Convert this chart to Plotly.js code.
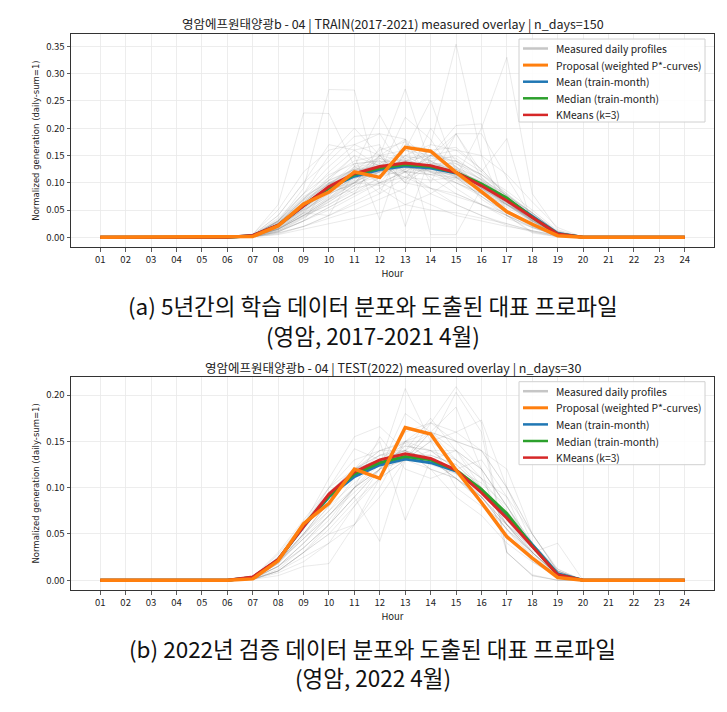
<!DOCTYPE html>
<html>
<head>
<meta charset="utf-8">
<script src="https://cdn.plot.ly/plotly-3.0.1.min.js"></script>
<style>html,body{margin:0;padding:0;background:#fff;}#chart{width:727px;height:712px;}</style>
</head>
<body>
<div id="chart"></div>
<script>
// ---------------- DATA ----------------
const hours = [1,2,3,4,5,6,7,8,9,10,11,12,13,14,15,16,17,18,19,20,21,22,23,24];
const hourLabels = ["01","02","03","04","05","06","07","08","09","10","11","12","13","14","15","16","17","18","19","20","21","22","23","24"];
const yTicksTrain = [0,0.05,0.10,0.15,0.20,0.25,0.30,0.35];
const yTicksTest = [0,0.05,0.10,0.15,0.20];

const proposal = [0,0,0,0,0,0,0.0015,0.021,0.061,0.083,0.120,0.110,0.165,0.158,0.119,0.084,0.047,0.024,0.003,0,0,0,0,0];
const meanCurve = [0,0,0,0,0,0,0.003,0.022,0.058,0.090,0.112,0.1245,0.131,0.127,0.118,0.096,0.070,0.038,0.007,0,0,0,0,0];
const medianCurve = [0,0,0,0,0,0,0.003,0.022,0.059,0.091,0.115,0.127,0.1335,0.130,0.119,0.098,0.072,0.037,0.006,0,0,0,0,0];
const kmeansCurve = [0,0,0,0,0,0,0.0035,0.0225,0.058,0.093,0.117,0.130,0.1365,0.1315,0.119,0.0945,0.067,0.037,0.006,0,0,0,0,0];

// measured daily profiles, TRAIN (2017-2021, April)
const trainProfiles = [
[0,0,0,0,0,0,.003,.024,.060,.092,.115,.126,.133,.127,.117,.094,.066,.035,.006,0,0,0,0,0],
[0,0,0,0,0,0,.002,.020,.055,.088,.112,.125,.134,.130,.120,.097,.068,.036,.007,0,0,0,0,0],
[0,0,0,0,0,0,.004,.028,.065,.098,.120,.128,.130,.122,.112,.090,.063,.033,.006,0,0,0,0,0],
[0,0,0,0,0,0,.002,.018,.050,.082,.108,.122,.133,.132,.124,.102,.074,.042,.009,0,0,0,0,0],
[0,0,0,0,0,0,.003,.022,.058,.090,.116,.130,.138,.130,.117,.092,.063,.033,.005,0,0,0,0,0],
[0,0,0,0,0,0,.002,.016,.045,.078,.104,.120,.132,.134,.127,.106,.078,.045,.010,0,0,0,0,0],
[0,0,0,0,0,0,.004,.030,.068,.100,.122,.130,.131,.121,.108,.086,.060,.032,.006,0,0,0,0,0],
[0,0,0,0,0,0,.003,.023,.057,.089,.111,.122,.128,.126,.120,.100,.072,.040,.008,0,0,0,0,0],
[0,0,0,0,0,0,.002,.019,.052,.086,.113,.128,.137,.132,.119,.095,.066,.034,.006,0,0,0,0,0],
[0,0,0,0,0,0,.003,.025,.062,.094,.114,.124,.129,.125,.116,.096,.069,.037,.007,0,0,0,0,0],
[0,0,0,0,0,0,.001,.014,.042,.074,.102,.121,.136,.137,.129,.107,.077,.043,.009,0,0,0,0,0],
[0,0,0,0,0,0,.005,.032,.072,.104,.124,.131,.130,.119,.105,.082,.058,.030,.005,0,0,0,0,0],
[0,0,0,0,0,0,.003,.021,.056,.091,.118,.133,.140,.131,.114,.089,.061,.031,.005,0,0,0,0,0],
[0,0,0,0,0,0,.002,.020,.053,.085,.108,.119,.127,.127,.121,.103,.077,.045,.010,0,0,0,0,0],
[0,0,0,0,0,0,.003,.026,.064,.097,.118,.127,.131,.124,.113,.091,.064,.034,.006,0,0,0,0,0],
[0,0,0,0,0,0,.002,.015,.040,.070,.115,.150,.160,.140,.115,.085,.060,.035,.006,0,0,0,0,0],
[0,0,0,0,0,0,.004,.035,.080,.115,.135,.140,.130,.115,.100,.080,.055,.028,.004,0,0,0,0,0],
[0,0,0,0,0,0,.001,.010,.035,.065,.095,.120,.145,.150,.140,.115,.080,.038,.006,0,0,0,0,0],
[0,0,0,0,0,0,.003,.025,.070,.110,.140,.150,.140,.120,.100,.075,.045,.020,.003,0,0,0,0,0],
[0,0,0,0,0,0,.002,.018,.048,.080,.100,.110,.125,.135,.135,.115,.085,.050,.012,0,0,0,0,0],
[0,0,0,0,0,0,.002,.020,.060,.100,.125,.100,.150,.140,.120,.090,.060,.030,.005,0,0,0,0,0],
[0,0,0,0,0,0,.003,.022,.050,.075,.130,.145,.120,.115,.125,.100,.068,.038,.007,0,0,0,0,0],
[0,0,0,0,0,0,.002,.015,.045,.090,.120,.160,.175,.130,.100,.080,.050,.025,.004,0,0,0,0,0],
[0,0,0,0,0,0,.003,.030,.075,.100,.110,.115,.120,.125,.120,.100,.068,.035,.006,0,0,0,0,0],
[0,0,0,0,0,0,.001,.012,.038,.060,.085,.110,.140,.160,.165,.125,.075,.035,.006,0,0,0,0,0],
[0,0,0,0,0,0,.004,.028,.060,.085,.105,.150,.180,.140,.110,.075,.040,.018,.003,0,0,0,0,0],
[0,0,0,0,0,0,.002,.020,.055,.095,.135,.140,.100,.130,.125,.095,.065,.035,.006,0,0,0,0,0],
[0,0,0,0,0,0,.003,.024,.062,.105,.150,.130,.120,.115,.110,.090,.060,.028,.005,0,0,0,0,0],
[0,0,0,0,0,0,.001,.010,.030,.055,.080,.110,.150,.170,.160,.125,.075,.032,.005,0,0,0,0,0],
[0,0,0,0,0,0,.002,.018,.052,.092,.120,.135,.160,.150,.120,.080,.045,.022,.004,0,0,0,0,0],
[0,0,0,0,0,0,.003,.020,.050,.080,.100,.125,.150,.125,.140,.105,.070,.035,.006,0,0,0,0,0],
[0,0,0,0,0,0,.002,.016,.044,.072,.100,.145,.130,.160,.135,.105,.065,.030,.005,0,0,0,0,0],
[0,0,0,0,0,0,.004,.030,.070,.105,.125,.125,.110,.105,.110,.095,.075,.045,.010,0,0,0,0,0],
[0,0,0,0,0,0,.002,.022,.058,.088,.100,.095,.125,.145,.140,.115,.075,.038,.007,0,0,0,0,0],
[0,0,0,0,0,0,.003,.026,.065,.098,.125,.135,.105,.135,.125,.095,.060,.030,.005,0,0,0,0,0],
[0,0,0,0,0,0,.001,.012,.036,.068,.100,.130,.140,.150,.145,.110,.065,.030,.005,0,0,0,0,0],
[0,0,0,0,0,0,.003,.028,.068,.098,.110,.120,.135,.128,.118,.092,.062,.032,.006,0,0,0,0,0],
[0,0,0,0,0,0,.002,.017,.047,.085,.128,.138,.142,.128,.110,.087,.066,.040,.010,0,0,0,0,0],
[0,0,0,0,0,0,.002,.020,.055,.085,.095,.165,.145,.120,.115,.095,.065,.032,.006,0,0,0,0,0],
[0,0,0,0,0,0,.003,.030,.090,.271,.270,.090,.060,.050,.045,.035,.025,.012,.003,0,0,0,0,0],
[0,0,0,0,0,0,.005,.060,.228,.227,.130,.100,.080,.060,.040,.030,.020,.012,.003,0,0,0,0,0],
[0,0,0,0,0,0,.001,.008,.020,.035,.050,.070,.090,.170,.354,.150,.040,.008,.001,0,0,0,0,0],
[0,0,0,0,0,0,.001,.005,.015,.025,.035,.045,.060,.080,.110,.200,.330,.080,.014,0,0,0,0,0],
[0,0,0,0,0,0,.002,.015,.040,.070,.100,.150,.272,.130,.090,.060,.040,.025,.005,0,0,0,0,0],
[0,0,0,0,0,0,.002,.014,.040,.060,.090,.130,.160,.251,.120,.070,.040,.020,.003,0,0,0,0,0],
[0,0,0,0,0,0,.003,.025,.060,.090,.130,.224,.140,.110,.080,.060,.045,.025,.005,0,0,0,0,0],
[0,0,0,0,0,0,.001,.010,.030,.050,.075,.100,.120,.150,.205,.208,.040,.010,.001,0,0,0,0,0],
[0,0,0,0,0,0,.003,.030,.080,.150,.200,.150,.100,.090,.080,.060,.035,.018,.004,0,0,0,0,0],
[0,0,0,0,0,0,.003,.030,.080,.130,.170,.190,.180,.005,.005,.090,.070,.040,.007,0,0,0,0,0],
[0,0,0,0,0,0,.003,.025,.070,.120,.160,.170,.020,.150,.130,.080,.045,.022,.005,0,0,0,0,0],
[0,0,0,0,0,0,.002,.020,.060,.110,.150,.032,.170,.160,.130,.090,.050,.022,.004,0,0,0,0,0],
[0,0,0,0,0,0,.001,.010,.030,.055,.080,.100,.120,.140,.150,.120,.181,.020,.003,0,0,0,0,0],
[0,0,0,0,0,0,.001,.008,.020,.040,.060,.080,.110,.150,.190,.190,.110,.035,.006,0,0,0,0,0],
[0,0,0,0,0,0,.004,.040,.100,.140,.185,.190,.120,.080,.060,.040,.025,.012,.004,0,0,0,0,0],
[0,0,0,0,0,0,.006,.050,.120,.160,.170,.150,.120,.090,.060,.040,.022,.010,.002,0,0,0,0,0],
[0,0,0,0,0,0,.001,.006,.020,.040,.065,.090,.120,.150,.160,.150,.115,.065,.018,0,0,0,0,0],
[0,0,0,0,0,0,.002,.015,.040,.065,.095,.120,.220,.180,.110,.075,.045,.025,.008,0,0,0,0,0],
[0,0,0,0,0,0,.002,.015,.045,.040,.120,.080,.180,.100,.190,.110,.070,.040,.008,0,0,0,0,0],
[0,0,0,0,0,0,.005,.040,.100,.170,.160,.130,.110,.090,.075,.060,.040,.018,.002,0,0,0,0,0],
[0,0,0,0,0,0,.002,.012,.030,.100,.080,.150,.100,.200,.140,.080,.060,.035,.011,0,0,0,0,0],
[0,0,0,0,0,0,.002,.015,.040,.070,.090,.100,.110,.130,.190,.120,.080,.045,.008,0,0,0,0,0]
];

// measured daily profiles, TEST (2022, April)
const testProfiles = [
[0,0,0,0,0,0,.003,.025,.060,.095,.120,.135,.140,.130,.115,.090,.055,.025,.004,0,0,0,0,0],
[0,0,0,0,0,0,.002,.020,.050,.085,.115,.135,.145,.140,.120,.090,.055,.020,.003,0,0,0,0,0],
[0,0,0,0,0,0,.001,.015,.040,.070,.100,.125,.207,.150,.100,.080,.060,.040,.012,0,0,0,0,0],
[0,0,0,0,0,0,.001,.010,.030,.050,.080,.110,.130,.169,.209,.170,.030,.005,0,0,0,0,0,0],
[0,0,0,0,0,0,.002,.015,.035,.060,.090,.120,.130,.150,.203,.160,.030,.005,0,0,0,0,0,0],
[0,0,0,0,0,0,.002,.020,.045,.070,.100,.120,.140,.160,.187,.120,.030,.006,0,0,0,0,0,0],
[0,0,0,0,0,0,.003,.020,.060,.110,.155,.166,.140,.120,.090,.070,.040,.020,.005,0,0,0,0,0],
[0,0,0,0,0,0,.002,.020,.055,.100,.142,.130,.140,.120,.110,.090,.055,.030,.006,0,0,0,0,0],
[0,0,0,0,0,0,.001,.010,.030,.060,.090,.042,.130,.160,.150,.140,.120,.050,.010,0,0,0,0,0],
[0,0,0,0,0,0,.002,.018,.050,.080,.120,.150,.065,.130,.140,.120,.080,.040,.008,0,0,0,0,0],
[0,0,0,0,0,0,.001,.005,.015,.018,.060,.110,.150,.170,.160,.140,.100,.050,.012,0,0,0,0,0],
[0,0,0,0,0,0,.001,.010,.030,.055,.085,.110,.130,.160,.130,.110,.090,.030,.040,0,0,0,0,0],
[0,0,0,0,0,0,.003,.022,.058,.090,.112,.128,.135,.135,.125,.100,.060,.028,.004,0,0,0,0,0],
[0,0,0,0,0,0,.002,.020,.050,.075,.100,.120,.150,.150,.130,.100,.065,.030,.005,0,0,0,0,0],
[0,0,0,0,0,0,.002,.018,.048,.080,.105,.130,.150,.140,.120,.100,.070,.030,.006,0,0,0,0,0],
[0,0,0,0,0,0,.001,.012,.035,.060,.090,.120,.180,.160,.140,.110,.060,.025,.005,0,0,0,0,0],
[0,0,0,0,0,0,.002,.015,.040,.065,.100,.130,.140,.175,.140,.100,.060,.030,.005,0,0,0,0,0],
[0,0,0,0,0,0,.003,.030,.065,.100,.120,.130,.130,.120,.110,.090,.060,.035,.007,0,0,0,0,0],
[0,0,0,0,0,0,.002,.025,.060,.100,.130,.140,.140,.130,.110,.085,.050,.022,.004,0,0,0,0,0],
[0,0,0,0,0,0,.001,.010,.030,.050,.060,.090,.130,.150,.160,.173,.100,.040,.006,0,0,0,0,0],
[0,0,0,0,0,0,.002,.020,.050,.085,.118,.140,.148,.130,.110,.090,.060,.035,.010,0,0,0,0,0],
[0,0,0,0,0,0,.001,.015,.040,.070,.100,.120,.145,.140,.130,.110,.075,.040,.010,0,0,0,0,0],
[0,0,0,0,0,0,.002,.020,.045,.075,.110,.130,.140,.130,.120,.105,.080,.035,.008,0,0,0,0,0],
[0,0,0,0,0,0,.003,.028,.062,.095,.120,.130,.135,.125,.115,.090,.060,.030,.006,0,0,0,0,0],
[0,0,0,0,0,0,.001,.008,.020,.040,.080,.120,.160,.170,.150,.120,.080,.040,.010,0,0,0,0,0],
[0,0,0,0,0,0,.001,.010,.025,.040,.060,.100,.150,.160,.150,.140,.100,.050,.010,0,0,0,0,0],
[0,0,0,0,0,0,.002,.018,.045,.070,.095,.120,.130,.140,.140,.120,.080,.035,.006,0,0,0,0,0],
[0,0,0,0,0,0,.003,.025,.055,.090,.120,.140,.150,.130,.110,.085,.055,.030,.007,0,0,0,0,0],
[0,0,0,0,0,0,.002,.015,.035,.060,.100,.155,.120,.110,.120,.130,.090,.050,.010,0,0,0,0,0],
[0,0,0,0,0,0,.002,.020,.050,.085,.120,.135,.135,.135,.125,.100,.060,.030,.005,0,0,0,0,0]
];

const titleTrain = "영암에프원태양광b - 04 | TRAIN(2017-2021) measured overlay | n_days=150";
const titleTest = "영암에프원태양광b - 04 | TEST(2022) measured overlay | n_days=30";
const captionA = ["(a) 5년간의 학습 데이터 분포와 도출된 대표 프로파일", "(영암, 2017-2021 4월)"];
const captionB = ["(b) 2022년 검증 데이터 분포와 도출된 대표 프로파일", "(영암, 2022 4월)"];
const legendNames = ["Measured daily profiles","Proposal (weighted P*-curves)","Mean (train-month)","Median (train-month)","KMeans (k=3)"];

// ---------------- STYLE ----------------
const W = 727, H = 712;
const KFONT = "'Noto Sans CJK KR', 'Noto Sans', sans-serif";
const GRAY = "rgba(128,128,128,0.17)";
const COLORS = {gray:"#c6c6c6", orange:"#ff7f0e", blue:"#1f77b4", green:"#2ca02c", red:"#d62728"};
const plotLeft = 71, plotRight = 714;
const panels = [
  {top:34, bottom:247, xa:"x", ya:"y", xn:"xaxis", yn:"yaxis", range:[-0.0177,0.3728], ticks:yTicksTrain, profiles:trainProfiles, title:titleTrain, titleY:24, caption:captionA, capY:[305,335]},
  {top:376.7, bottom:590, xa:"x2", ya:"y2", xn:"xaxis2", yn:"yaxis2", range:[-0.0105,0.2198], ticks:yTicksTest, profiles:testProfiles, title:titleTest, titleY:367, caption:captionB, capY:[648,677]}
];

const traces = [];
const layout = {
  width: W, height: H,
  margin: {l:0, r:0, t:0, b:0},
  paper_bgcolor: "#fff", plot_bgcolor: "#fff",
  showlegend: false,
  font: {family: KFONT, color: "#222"},
  annotations: [], shapes: []
};

panels.forEach(p => {
  p.profiles.forEach(prof => {
    traces.push({x: hours, y: prof, xaxis: p.xa, yaxis: p.ya, type: "scatter", mode: "lines",
      line: {color: GRAY, width: 1}, hoverinfo: "skip", showlegend: false});
  });
  traces.push({x: hours, y: meanCurve, xaxis: p.xa, yaxis: p.ya, mode: "lines", name: legendNames[2], line: {color: COLORS.blue, width: 3}});
  traces.push({x: hours, y: medianCurve, xaxis: p.xa, yaxis: p.ya, mode: "lines", name: legendNames[3], line: {color: COLORS.green, width: 3}});
  traces.push({x: hours, y: kmeansCurve, xaxis: p.xa, yaxis: p.ya, mode: "lines", name: legendNames[4], line: {color: COLORS.red, width: 3}});
  traces.push({x: hours, y: proposal, xaxis: p.xa, yaxis: p.ya, mode: "lines", name: legendNames[1], line: {color: COLORS.orange, width: 3.5}});

  const common = {
    showline: true, mirror: true, linecolor: "#333", linewidth: 1,
    showgrid: true, gridcolor: "#e9e9e9", gridwidth: 0.8, zeroline: false,
    ticks: "outside", ticklen: 3.5, tickwidth: 0.8, tickcolor: "#333",
    tickfont: {family: KFONT, size: 9.5, color: "#222"}, automargin: false
  };
  layout[p.xn] = Object.assign({}, common, {
    domain: [plotLeft / W, plotRight / W], anchor: p.ya,
    range: [-0.15, 25.15], tickmode: "array", tickvals: hours, ticktext: hourLabels,
    title: {text: "Hour", font: {family: KFONT, size: 9.5, color: "#222"}, standoff: 3}
  });
  layout[p.yn] = Object.assign({}, common, {
    domain: [1 - p.bottom / H, 1 - p.top / H], anchor: p.xa,
    range: p.range, tickmode: "array", tickvals: p.ticks, ticktext: p.ticks.map(v => v.toFixed(2)),
    title: {text: "Normalized generation (daily-sum=1)", font: {family: "'DejaVu Sans', sans-serif", size: 8.5, color: "#222"}, standoff: 5}
  });

  // subplot title
  layout.annotations.push({text: p.title, xref: "paper", yref: "paper", x: (plotLeft + plotRight) / 2 / W, y: 1 - p.titleY / H,
    xanchor: "center", yanchor: "middle", showarrow: false, font: {family: KFONT, size: 12.5, color: "#222"}});
  // caption
  p.caption.forEach((c, i) => {
    layout.annotations.push({text: c, xref: "paper", yref: "paper", x: 373 / W, y: 1 - p.capY[i] / H,
      xanchor: "center", yanchor: "middle", showarrow: false, font: {family: KFONT, size: 22.5, color: "#111"}});
  });

  // legend box (drawn inside axes, upper right)
  const ph = p.bottom - p.top, pw = plotRight - plotLeft;
  const fx = px => (px - plotLeft) / pw;
  const fy = py => (p.bottom - (p.top + py)) / ph;
  const xd = p.xa + " domain", yd = p.ya + " domain";
  layout.shapes.push({type: "rect", xref: xd, yref: yd, x0: fx(519), x1: fx(705), y0: fy(5), y1: fy(88),
    line: {color: "#d0d0d0", width: 1}, fillcolor: "rgba(255,255,255,0.85)", layer: "above"});
  const legColors = [COLORS.gray, COLORS.orange, COLORS.blue, COLORS.green, COLORS.red];
  const legWidths = [2.5, 3, 2.5, 2.5, 2.5];
  legendNames.forEach((n, i) => {
    const yy = 14.5 + i * 16.6;
    layout.shapes.push({type: "line", xref: xd, yref: yd, x0: fx(523), x1: fx(548), y0: fy(yy), y1: fy(yy),
      line: {color: legColors[i], width: legWidths[i]}, layer: "above"});
    layout.annotations.push({text: n, xref: xd, yref: yd, x: fx(554), y: fy(yy), xanchor: "left", yanchor: "middle",
      showarrow: false, font: {family: KFONT, size: 10.3, color: "#222"}});
  });
});

Plotly.newPlot("chart", traces, layout, {staticPlot: true, displayModeBar: false});
</script>
</body>
</html>
